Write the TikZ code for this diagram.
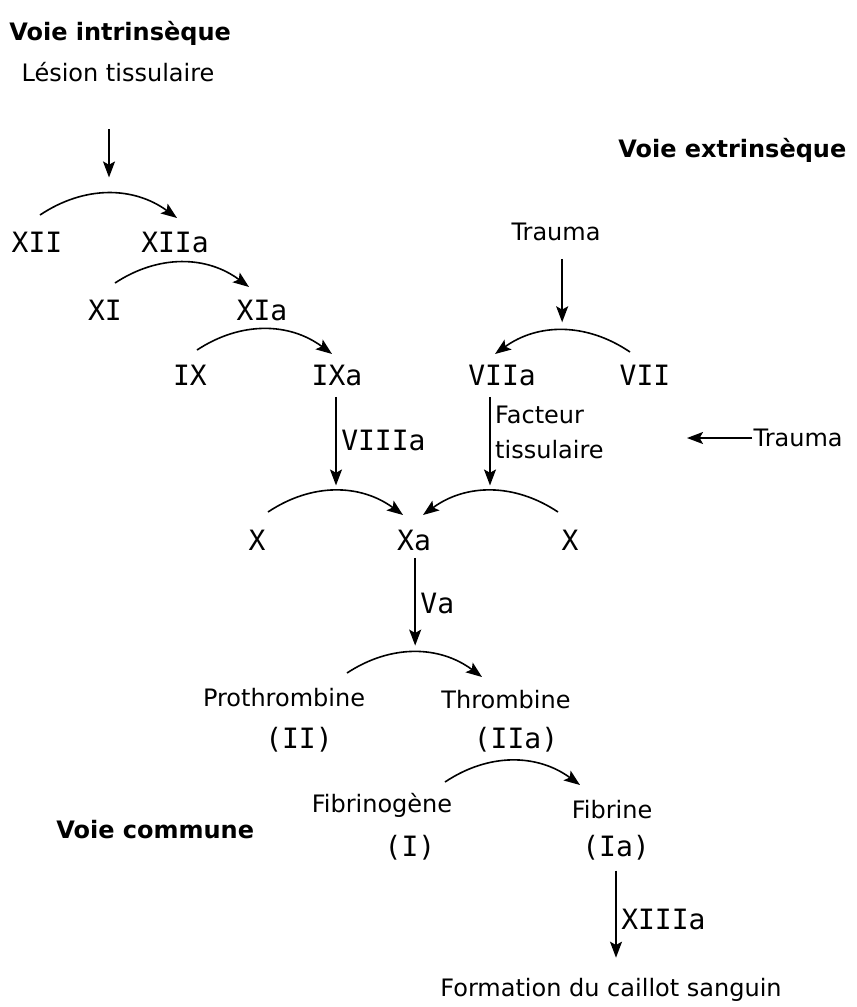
\documentclass[tikz,border=0pt]{standalone}
\usepackage{fontspec}
\setmainfont{DejaVu Sans}
\newfontfamily\numfont{DejaVu Sans Mono}
\usetikzlibrary{arrows.meta}

\begin{document}
\begin{tikzpicture}[
  x=0.75pt,y=-0.75pt,
  voie/.style={font=\bfseries\fontsize{18}{21}\selectfont,anchor=west,inner sep=0pt},
  txt/.style={font=\fontsize{18}{26}\selectfont},
  fac/.style={font=\numfont\fontsize{21}{24}\selectfont},
  arr/.style={-{Stealth[length=12pt,width=9pt,inset=2.5pt]},line width=1.2pt}
]
\useasboundingbox (0,0) rectangle (857,1007);

% titres
\node[voie] (intr) at (9,33) {Voie intrinsèque};
\node[voie] (extr) at (618,150) {Voie extrinsèque};
\node[voie] (comm) at (56,830) {Voie commune};

% declencheurs
\node[txt] (lesion) at (118,72) {Lésion tissulaire};
\node[txt] (trauma) at (556,232) {Trauma};
\node[txt,anchor=west,inner sep=1pt] (trauma2) at (752,438) {Trauma};
\coordinate (tf) at (687,438);

% facteurs
\node[fac] (xii) at (37,242) {XII};
\node[fac] (xiia) at (175,242) {XIIa};
\node[fac] (xi) at (105,310) {XI};
\node[fac] (xia) at (262,310) {XIa};
\node[fac] (ix) at (190,375) {IX};
\node[fac] (ixa) at (337,375) {IXa};
\node[fac] (viia) at (502,375) {VIIa};
\node[fac] (vii) at (645,375) {VII};
\node[fac] (xg) at (257,540) {X};
\node[fac] (xa) at (414,540) {Xa};
\node[fac] (xd) at (570,540) {X};
\node[txt] (pro) at (284,698) {Prothrombine};
\node[fac] (proN) at (299,740) {(II)};
\node[txt] (thr) at (506,700) {Thrombine};
\node[fac] (thrN) at (516,740) {(IIa)};
\node[txt] (fbg) at (382,805) {Fibrinogène};
\node[fac] (fbgN) at (410,848) {(I)};
\node[txt] (fib) at (612,810) {Fibrine};
\node[fac] (fibN) at (616,848) {(Ia)};
\node[txt] (caillot) at (611,990) {Formation du caillot sanguin};

% reactions
\draw[arr] ([shift={(3,-27)}]xii.center) to[bend left=35] coordinate[pos=.5] (kA) ([shift={(2,-24)}]xiia.center);
\draw[arr] ([shift={(10,-27)}]xi.center) to[bend left=35] ([shift={(-13,-23)}]xia.center);
\draw[arr] ([shift={(7,-25)}]ix.center) to[bend left=35] ([shift={(-5,-21)}]ixa.center);
\draw[arr] ([shift={(-15,-23)}]vii.center) to[bend right=35] coordinate[pos=.5] (kD) ([shift={(-7,-21)}]viia.center);
\draw[arr] ([shift={(11,-28)}]xg.center) to[bend left=35] coordinate[pos=.5] (kE) ([shift={(-11,-25)}]xa.center);
\draw[arr] ([shift={(-12,-28)}]xd.center) to[bend right=35] coordinate[pos=.5] (kF) ([shift={(9,-25)}]xa.center);
\draw[arr] ([shift={(63,-25)}]pro.center) to[bend left=35] coordinate[pos=.5] (kG) ([shift={(-24,-23)}]thr.center);
\draw[arr] ([shift={(63,-23)}]fbg.center) to[bend left=35] ([shift={(-32,-25)}]fib.center);

% activations
\draw[arr,shorten <=32pt,shorten >=12pt] (lesion.south -| kA) -- (kA);
\draw[arr,shorten <=10pt,shorten >=6pt] (trauma.south -| kD) -- (kD);
\draw[arr] (trauma2.west) -- (tf);
\draw[arr,shorten <=5pt,shorten >=4pt] (ixa.south -| kE) -- (kE)
  node[fac,midway,right] {VIIIa};
\draw[arr,shorten <=5pt,shorten >=4pt] (viia.south -| kF) -- (kF)
  node[txt,pos=.42,right,align=left] {Facteur\\tissulaire};
\draw[arr,shorten <=2pt,shorten >=5pt] (xa.south -| kG) -- (kG)
  node[fac,midway,right] {Va};
\draw[arr,shorten <=4pt,shorten >=12pt] (fibN.south) -- (fibN.south |- caillot.north)
  node[fac,midway,right] {XIIIa};
\end{tikzpicture}
\end{document}
